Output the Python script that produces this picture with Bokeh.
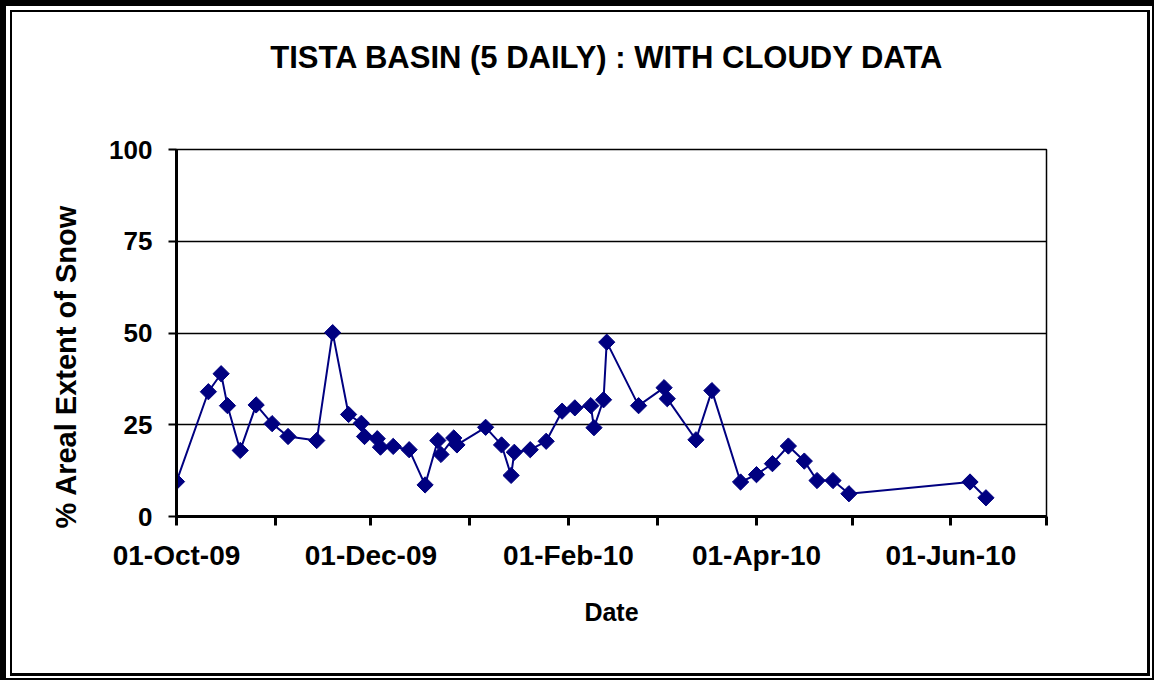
import pandas as pd
import numpy as np
from bokeh.plotting import figure
from bokeh.models import Range1d, FixedTicker, Title
from bokeh.embed import file_html
from bokeh.resources import INLINE

# ---- data ----
dates = ["2009-10-01", "2009-10-11", "2009-10-15", "2009-10-17", "2009-10-21", "2009-10-26", "2009-10-31",
         "2009-11-05", "2009-11-14", "2009-11-19", "2009-11-24", "2009-11-28", "2009-11-29",
         "2009-12-03", "2009-12-04", "2009-12-08", "2009-12-13", "2009-12-18", "2009-12-22", "2009-12-23",
         "2009-12-27", "2009-12-28",
         "2010-01-06", "2010-01-11", "2010-01-14", "2010-01-15", "2010-01-20", "2010-01-25", "2010-01-30",
         "2010-02-03", "2010-02-08", "2010-02-09", "2010-02-12", "2010-02-13", "2010-02-23",
         "2010-03-03", "2010-03-04", "2010-03-13", "2010-03-18", "2010-03-27",
         "2010-04-01", "2010-04-06", "2010-04-11", "2010-04-16", "2010-04-20", "2010-04-25", "2010-04-30",
         "2010-06-07", "2010-06-12"]
snow_pct = [9.5, 34.0, 38.9, 30.2, 18.0, 30.4, 25.3,
            21.8, 20.7, 50.1, 27.8, 25.4, 21.8,
            21.2, 18.9, 19.1, 18.2, 8.6, 20.7, 16.9,
            21.4, 19.5,
            24.3, 19.5, 11.2, 17.5, 18.2, 20.5, 28.7,
            29.6, 30.2, 24.2, 31.8, 47.5, 30.2,
            35.1, 32.1, 20.9, 34.3, 9.4,
            11.4, 14.4, 19.2, 15.1, 9.8, 9.8, 6.2,
            9.4, 5.1]

start_date = "2009-10-01"
end_date = "2010-07-01"
labeled_months = ["2009-10-01", "2009-12-01", "2010-02-01", "2010-04-01", "2010-06-01"]
tick_labels = ["01-Oct-09", "01-Dec-09", "01-Feb-10", "01-Apr-10", "01-Jun-10"]
other_months = ["2009-11-01", "2010-01-01", "2010-03-01", "2010-05-01", "2010-07-01"]
y_ticks = [0, 25, 50, 75, 100]

title_text = "TISTA BASIN (5 DAILY) : WITH CLOUDY  DATA"
x_label = "Date"
y_label = "% Areal  Extent of Snow"

# ---- conversion to day offsets ----
t0 = pd.Timestamp(start_date)
def day(s):
    return int((pd.Timestamp(s) - t0).days)

x = [day(d) for d in dates]
major = [day(d) for d in labeled_months]
minor = [day(d) for d in other_months]

FONT = "Liberation Sans"
NAVY = "#000080"

p = figure(width=1154, height=680,
           x_range=Range1d(0, day(end_date)), y_range=Range1d(0, 100),
           min_border_left=176, min_border_right=108, min_border_top=149, min_border_bottom=164,
           output_backend="svg", toolbar_location=None)

p.styles = {
    "box-shadow": ("inset 6px 6px 0 0 #000, inset 0 0 0 2px #000, "
                   "inset 3px 3px 0 7px #fff, inset 2.5px 2.5px 0 9.5px #000"),
}
p.border_fill_color = None
p.background_fill_color = "white"
p.outline_line_color = "black"
p.outline_line_width = 1.5

# spacer between frame and title (pushes the title up)
p.add_layout(Title(text=" ", text_font_size="1px", standoff=67), "above")

# title
p.title.text = title_text
p.title.align = "center"
p.title.text_font = FONT
p.title.text_font_style = "bold"
p.title.text_font_size = "31px"
p.title.text_color = "black"
p.title.standoff = 10

# grids
p.xgrid.grid_line_color = None
p.ygrid.grid_line_color = "black"
p.ygrid.grid_line_width = 1.3

# y axis
p.yaxis.ticker = FixedTicker(ticks=y_ticks)
p.yaxis.axis_line_width = 3
p.yaxis.major_tick_out = 8
p.yaxis.major_tick_in = 0
p.yaxis.major_tick_line_width = 2
p.yaxis.minor_tick_line_color = None
p.yaxis.major_label_text_font = FONT
p.yaxis.major_label_text_font_style = "bold"
p.yaxis.major_label_text_font_size = "26px"
p.yaxis.major_label_text_color = "black"
p.yaxis.major_label_standoff = 16

# y axis title, starting just below the frame bottom as in the original
p.add_layout(Title(text=y_label, align="left", offset=-12, standoff=49,
                   text_font=FONT, text_font_style="bold", text_font_size="29px",
                   text_color="black"), "left")

# x axis
p.xaxis.ticker = FixedTicker(ticks=major, minor_ticks=minor)
p.xaxis.major_label_overrides = {m: lab for m, lab in zip(major, tick_labels)}
p.xaxis.axis_line_width = 3
p.xaxis.major_tick_out = 9
p.xaxis.major_tick_in = 0
p.xaxis.major_tick_line_width = 3
p.xaxis.minor_tick_out = 9
p.xaxis.minor_tick_in = 0
p.xaxis.minor_tick_line_width = 3
p.xaxis.minor_tick_line_color = "black"
p.xaxis.major_label_text_font = FONT
p.xaxis.major_label_text_font_style = "bold"
p.xaxis.major_label_text_font_size = "28px"
p.xaxis.major_label_text_color = "black"
p.xaxis.major_label_standoff = 14
p.xaxis.axis_label = x_label
p.xaxis.axis_label_text_font = FONT
p.xaxis.axis_label_text_font_style = "bold"
p.xaxis.axis_label_text_font_size = "25px"
p.xaxis.axis_label_text_color = "black"
p.xaxis.axis_label_standoff = 24

# series
p.line(x, snow_pct, line_color=NAVY, line_width=2)
p.scatter(x, snow_pct, marker="square", angle=np.pi / 4, size=11.5,
          fill_color=NAVY, line_color=NAVY)

open("out.html", "w").write(file_html(p, INLINE))
